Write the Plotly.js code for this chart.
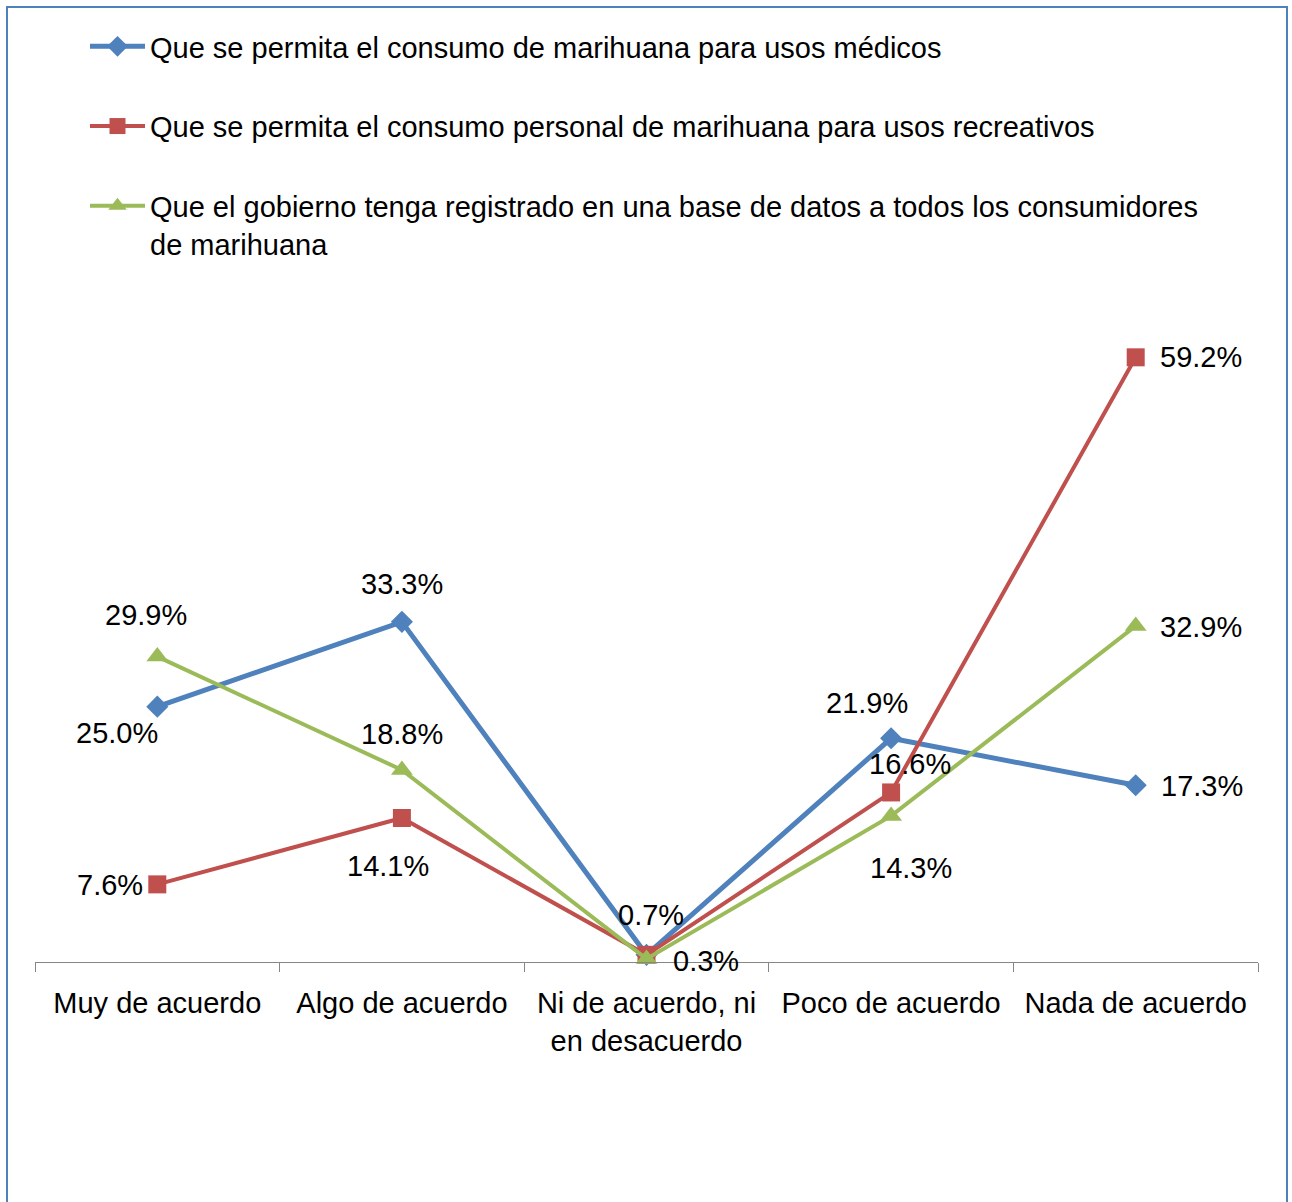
<!DOCTYPE html>
<html>
<head>
<meta charset="utf-8">
<script src="https://cdn.plot.ly/plotly-3.0.1.min.js"></script>
<style>html,body{margin:0;padding:0;background:#fff;}#chart{width:1292px;height:1202px;}</style>
</head>
<body>
<div id="chart"></div>
<script>
const categories = ["Muy de acuerdo", "Algo de acuerdo", "Ni de acuerdo, ni<br>en desacuerdo", "Poco de acuerdo", "Nada de acuerdo"];
const seriesNames = [
  "Que se permita el consumo de marihuana para usos médicos",
  "Que se permita el consumo personal de marihuana para usos recreativos",
  "Que el gobierno tenga registrado en una base de datos a todos los consumidores<br>de marihuana"
];
const medicos = [25.0, 33.3, 0.7, 21.9, 17.3];
const recreativos = [7.6, 14.1, 0.7, 16.6, 59.2];
const registro = [29.9, 18.8, 0.3, 14.3, 32.9];
const medicosLabels = ["25.0%", "33.3%", "0.7%", "21.9%", "17.3%"];
const recreativosLabels = ["7.6%", "14.1%", "", "16.6%", "59.2%"];
const registroLabels = ["29.9%", "18.8%", "0.3%", "14.3%", "32.9%"];

// label offsets in pixels (style only): [dx, dy-up]
const medicosOffsets = [[-40, -26], [0, 38], [4, 40], [-24, 35], [66, -1]];
const recreativosOffsets = [[-47, -1], [-14, -48], [0, 0], [19, 28], [65, 0]];
const registroOffsets = [[-11, 42], [0, 36], [59, -2], [20, -52], [65, -1]];

const FONT = "Liberation Sans, Arial, sans-serif";
const FS = 29;

const colors = ["#4F81BD", "#C0504D", "#9BBB59"];
const values = [medicos, recreativos, registro];
const labels = [medicosLabels, recreativosLabels, registroLabels];
const offsets = [medicosOffsets, recreativosOffsets, registroOffsets];
const symbols = ["diamond", "square", "triangle-up"];
const sizes = [17, 18, 19];
const widths = [5, 4, 4];

const traces = values.map((vals, i) => ({
  x: categories, y: vals, name: seriesNames[i], legendgroup: "g" + i,
  type: "scatter", mode: "lines+markers",
  line: {color: colors[i], width: widths[i]},
  marker: {symbol: symbols[i], size: sizes[i], color: colors[i]},
  cliponaxis: false
}));

const annotations = [];
values.forEach((vals, i) => {
  vals.forEach((v, j) => {
    if (!labels[i][j]) return;
    annotations.push({
      x: categories[j], y: v, xref: "x", yref: "y",
      text: labels[i][j], showarrow: false,
      xanchor: "center", yanchor: "middle",
      xshift: offsets[i][j][0], yshift: offsets[i][j][1],
      font: {family: FONT, size: FS, color: "#000"}
    });
  });
});

const L = 35, R = 34, T = 247, B = 240;
const plotW = 1292 - L - R, plotH = 1202 - T - B;
const px2x = p => (p - L) / plotW;
const px2y = p => (1202 - B - p) / plotH;

const layout = {
  width: 1292, height: 1202,
  paper_bgcolor: "#fff", plot_bgcolor: "#fff",
  margin: {l: L, r: R, t: T, b: B},
  font: {family: FONT, size: FS, color: "#000"},
  showlegend: true,
  legend: {
    x: px2x(85), y: px2y(21), xanchor: "left", yanchor: "top",
    orientation: "v", tracegroupgap: 39, valign: "top",
    font: {family: FONT, size: FS, color: "#000"},
    bgcolor: "rgba(0,0,0,0)", itemwidth: 55
  },
  xaxis: {
    type: "category", range: [-0.5, 4.5], fixedrange: true,
    showline: true, linecolor: "#868686", linewidth: 1,
    ticks: "outside", tickson: "boundaries", ticklen: 9, tickcolor: "#868686",
    showgrid: false, zeroline: false,
    tickfont: {family: FONT, size: FS, color: "#000"},
    ticklabelstandoff: 15
  },
  yaxis: {
    range: [0, 70], visible: false, showgrid: false, zeroline: false, fixedrange: true
  },
  annotations: annotations,
  shapes: [{
    type: "rect", xref: "paper", yref: "paper",
    x0: px2x(7), x1: px2x(1287), y0: px2y(1215), y1: px2y(7),
    line: {color: "#4F81BD", width: 2}, fillcolor: "rgba(0,0,0,0)", layer: "below"
  }]
};

Plotly.newPlot("chart", traces, layout, {displayModeBar: false, staticPlot: true});
</script>
</body>
</html>
